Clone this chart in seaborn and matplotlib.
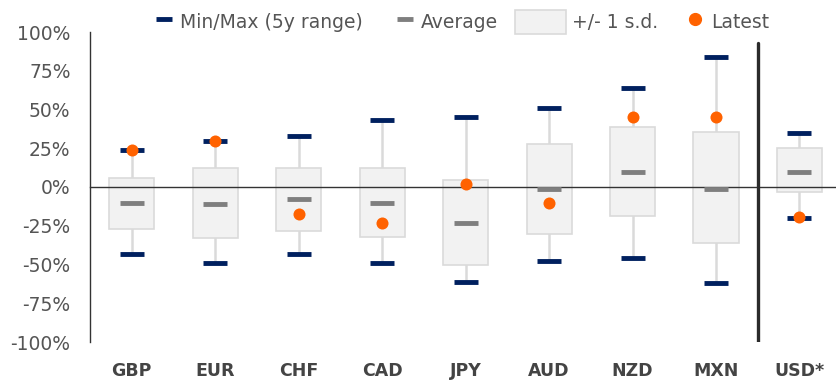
import numpy as np
import pandas as pd
import matplotlib
matplotlib.use("Agg")
import matplotlib.pyplot as plt
import seaborn as sns
from matplotlib.lines import Line2D
from matplotlib.patches import Patch

currencies = ['GBP', 'EUR', 'CHF', 'CAD', 'JPY', 'AUD', 'NZD', 'MXN', 'USD*']
max_vals = [24, 30, 33, 43, 45, 51, 64, 84, 35]
min_vals = [-43, -49, -43, -49, -61, -48, -46, -62, -20]
avg_vals = [-10.5, -11, -8, -10, -23, -1, 10, -1, 10]
sd_high = [6, 12, 12, 12, 4.5, 28, 39, 35.5, 25]
sd_low = [-27, -33, -28.5, -32, -50, -30, -19, -36, -3]
latest = [24, 30, -17.5, -23.5, 2, -10, 45, 45, -19.5]

df = pd.DataFrame({'ccy': currencies, 'max': max_vals, 'min': min_vals,
                   'avg': avg_vals, 'hi': sd_high, 'lo': sd_low, 'latest': latest})

navy = '#00205f'
grey_avg = '#7f7f7f'
box_fill = '#f2f2f2'
box_edge = '#dadada'
orange = '#ff6200'
txt_grey = '#555555'

sns.set_style('white')
plt.rcParams['font.family'] = ['DejaVu Sans']

fig = plt.figure(figsize=(8.37, 3.8), dpi=100)
ax = fig.add_axes([90 / 837, 1 - 342 / 380, 1 - 90 / 837, 310 / 380])

# whiskers behind the boxes
ax.vlines(df['ccy'], df['min'], df['max'], color=box_edge, lw=1.8, zorder=1)
# +/- 1 s.d. boxes
ax.bar(df['ccy'], df['hi'] - df['lo'], bottom=df['lo'], width=0.54,
       color=box_fill, edgecolor=box_edge, linewidth=1.2, zorder=2)

# min / max caps and average
for col, c in [('max', navy), ('min', navy), ('avg', grey_avg)]:
    sns.scatterplot(data=df, x='ccy', y=col, marker='_', s=290, linewidth=3.5,
                    color=c, edgecolor=c, ax=ax, zorder=3, legend=False)
# latest
sns.scatterplot(data=df, x='ccy', y='latest', marker='o', s=75, linewidth=0,
                color=orange, ax=ax, zorder=4, legend=False)

# separator before USD
ax.axvline(len(currencies) - 1.5, ymin=0, ymax=(93 + 100) / 200,
           color='#2b2b2b', lw=2.4, zorder=5)

ax.set_xlim(-0.5, len(currencies) - 0.55)
ax.set_ylim(-100, 100)
yt = np.arange(-100, 101, 25)
ax.set_yticks(yt)
ax.set_yticklabels([f'{v}%' for v in yt], fontsize=13.5, color=txt_grey)

for s in ['top', 'right']:
    ax.spines[s].set_visible(False)
ax.spines['left'].set_color('#333333')
ax.spines['left'].set_linewidth(1.0)
ax.spines['bottom'].set_position(('data', 0))
ax.spines['bottom'].set_color('#333333')
ax.spines['bottom'].set_linewidth(1.0)

ax.tick_params(axis='y', direction='out', length=6, width=1, color='#333333', pad=8)
ax.set_xticks(range(len(currencies)))
ax.set_xticklabels(currencies, fontsize=12.5, fontweight='bold', color='#444444')
ax.set_xticks(np.arange(0.5, len(currencies) - 1, 1), minor=True)
ax.tick_params(axis='x', which='major', length=0, pad=126)
ax.tick_params(axis='x', which='minor', direction='out', length=5, width=1,
               color='#333333')
ax.set_xlabel('')
ax.set_ylabel('')

# legend, one entry at a time so each handle can have its own width
entries = [
    (Line2D([], [], marker='_', color=navy, linestyle='none', markersize=11, mew=3.5),
     'Min/Max (5y range)', 155, 1.0),
    (Line2D([], [], marker='_', color=grey_avg, linestyle='none', markersize=11, mew=3.5),
     'Average', 396, 1.0),
    (Patch(facecolor=box_fill, edgecolor=box_edge, linewidth=1.2),
     '+/- 1 s.d.', 515, 2.7),
    (Line2D([], [], marker='o', color=orange, linestyle='none', markersize=8.5),
     'Latest', 686, 1.0),
]
for h, lab, xpix, hl in entries:
    leg = fig.legend([h], [lab], loc='center left',
                     bbox_to_anchor=(xpix / 837, 1 - 22 / 380),
                     frameon=False, fontsize=13.5, handlelength=hl,
                     handleheight=1.55, handletextpad=0.35,
                     borderpad=0, borderaxespad=0)
    for t in leg.get_texts():
        t.set_color(txt_grey)

fig.savefig('out.png', dpi=100)
